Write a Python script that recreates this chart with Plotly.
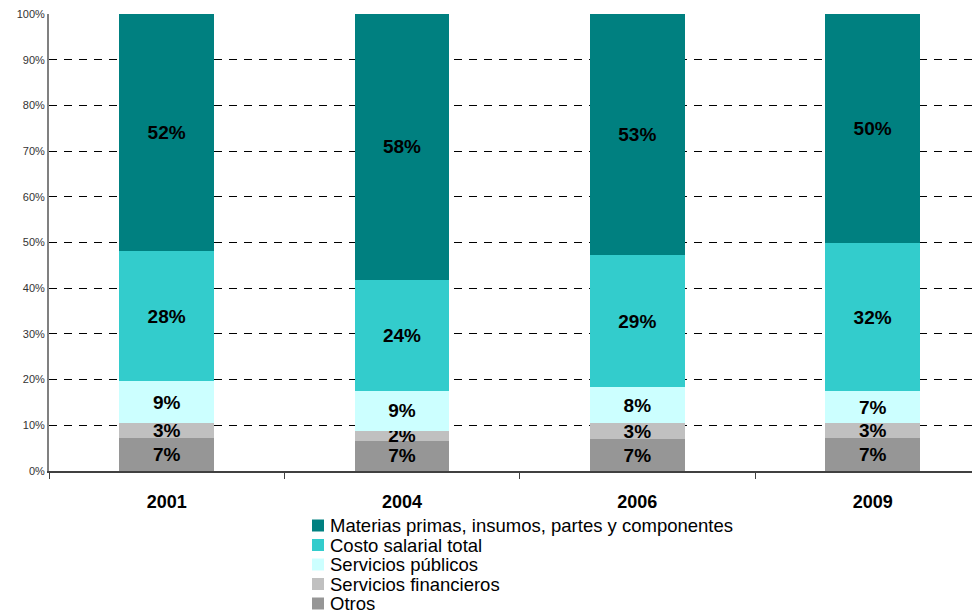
import plotly.graph_objects as go

years = ["2001", "2004", "2006", "2009"]
otros = [7.3, 6.6, 7.0, 7.2]
financieros = [3.1, 2.2, 3.4, 3.4]
publicos = [9.3, 8.7, 7.9, 6.8]
costo = [28.4, 24.4, 28.9, 32.4]
materias = [51.9, 58.1, 52.8, 50.2]

series = [
    ("Otros", otros, "#969696"),
    ("Servicios financieros", financieros, "#C0C0C0"),
    ("Servicios públicos", publicos, "#CCFFFF"),
    ("Costo salarial total", costo, "#33CCCC"),
    ("Materias primas, insumos, partes y componentes", materias, "#008080"),
]

FONT = "Liberation Sans, Arial"

fig = go.Figure()
for name, vals, color in series:
    fig.add_trace(go.Bar(
        x=years, y=vals, name=name, marker=dict(color=color, line=dict(width=0)),
        text=[f"{round(v)}%" for v in vals], textposition="inside", textangle=0,
        insidetextanchor="middle", constraintext="none",
        textfont=dict(family=FONT, size=19, color="black", weight="bold"),
        width=0.403, showlegend=False,
    ))

# Legend rows (colour square + text), compact spacing like the original
L_TOP = 525.5    # screen px centre of first row
L_STEP = 19.5    # px between rows
PLOT_TOP, PLOT_BOT, PLOT_L, PLOT_W = 14, 471, 49, 939
PH = PLOT_BOT - PLOT_TOP
for i, (name, vals, color) in enumerate(reversed(series)):
    ypx = L_TOP + i * L_STEP
    yp = (PLOT_BOT - ypx) / PH
    fig.add_shape(
        type="rect", xref="paper", yref="paper",
        x0=(312 - PLOT_L) / PLOT_W, x1=(324 - PLOT_L) / PLOT_W,
        y0=(PLOT_BOT - (ypx + 6)) / PH, y1=(PLOT_BOT - (ypx - 6)) / PH,
        fillcolor=color, line=dict(width=0),
    )
    fig.add_annotation(
        xref="paper", yref="paper", x=(328 - PLOT_L) / PLOT_W, y=yp,
        xanchor="left", yanchor="middle", showarrow=False,
        text=name, font=dict(family=FONT, size=18.5, color="black"),
    )

fig.update_layout(
    barmode="stack",
    width=980, height=615,
    margin=dict(l=41, r=0, t=6, b=152, autoexpand=False),
    paper_bgcolor="white", plot_bgcolor="white",
    font=dict(family=FONT, color="black"),
    uniformtext=dict(minsize=19, mode="show"),
    showlegend=False,
    xaxis=dict(
        range=[-0.5, 3.49], showgrid=False, showline=True, linecolor="#404040", linewidth=1.5,
        ticks="outside", tickson="boundaries", ticklen=6, tickcolor="#404040",
        tickfont=dict(size=18, color="black", weight="bold"), ticklabelstandoff=14,
    ),
    yaxis=dict(
        range=[0, 100], tickvals=[0, 10, 20, 30, 40, 50, 60, 70, 80, 90, 100],
        ticktext=[f"{v}%" for v in range(0, 101, 10)],
        showgrid=True, gridcolor="black", griddash="8px,7px", gridwidth=1,
        showline=True, linecolor="#808080", linewidth=2,
        ticks="", tickfont=dict(size=11, color="#333333"), zeroline=False,
        ticklabeloverflow="allow",
    ),
)

fig.write_html("out.html")
